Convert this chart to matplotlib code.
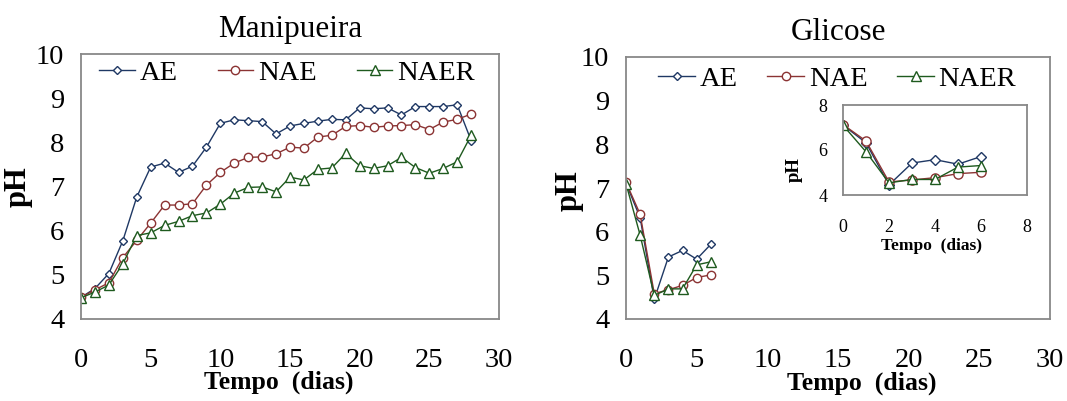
import matplotlib
matplotlib.use("Agg")
import matplotlib.pyplot as plt

plt.rcParams['font.family'] = ['Liberation Serif', 'DejaVu Serif']

# Manipueira, days 0..28
dias_m = list(range(29))
ae_m = [4.49, 4.69, 5.03, 5.77, 6.76, 7.44, 7.53, 7.32, 7.46, 7.89,
        8.43, 8.51, 8.49, 8.47, 8.19, 8.37, 8.43, 8.48, 8.52, 8.51,
        8.78, 8.76, 8.78, 8.62, 8.81, 8.81, 8.81, 8.85, 8.04]
nae_m = [4.49, 4.66, 4.82, 5.39, 5.78, 6.17, 6.58, 6.58, 6.61, 7.03,
         7.32, 7.53, 7.66, 7.67, 7.74, 7.89, 7.87, 8.12, 8.16, 8.36,
         8.38, 8.34, 8.37, 8.38, 8.40, 8.29, 8.46, 8.52, 8.64]
naer_m = [4.48, 4.61, 4.77, 5.25, 5.89, 5.95, 6.12, 6.21, 6.34, 6.40,
          6.60, 6.85, 6.98, 6.99, 6.88, 7.21, 7.15, 7.39, 7.42, 7.75,
          7.47, 7.41, 7.47, 7.66, 7.43, 7.30, 7.41, 7.56, 8.16]

# Glicose, days 0..6
dias_g = list(range(7))
ae_g = [7.11, 6.32, 4.45, 5.42, 5.57, 5.37, 5.71]
nae_g = [7.13, 6.40, 4.58, 4.67, 4.77, 4.95, 5.01]
naer_g = [7.10, 5.92, 4.54, 4.69, 4.69, 5.24, 5.31]

labels = ['AE', 'NAE', 'NAER']
colors = ['#1f3864', '#8b3333', '#1e5a1e']
markers = ['D', 'o', '^']
msizes = [4.5, 6, 6.5]

gray = '#888888'
fs = 20.5

fig = plt.figure(figsize=(10.67, 4.01), dpi=100)
W, H = 1067, 401


def box(x0, y0, x1, y1):
    return [x0 / W, 1 - y1 / H, (x1 - x0) / W, (y1 - y0) / H]


def draw_series(ax, x, ys, ms_scale=1.0):
    for y, lab, c, m, s in zip(ys, labels, colors, markers, msizes):
        ax.plot(x, y, color=c, marker=m, markersize=s * ms_scale,
                markerfacecolor='white', markeredgecolor=c,
                markeredgewidth=1.0, linewidth=1.0, label=lab)


def style(ax, size, xpad, ypad):
    for sp in ax.spines.values():
        sp.set_color(gray)
        sp.set_linewidth(1.3)
    ax.tick_params(axis='both', length=0, labelsize=size)
    ax.tick_params(axis='x', pad=xpad)
    ax.tick_params(axis='y', pad=ypad)


# left panel
ax1 = fig.add_axes(box(81, 54, 499, 319))
draw_series(ax1, dias_m, [ae_m, nae_m, naer_m])
ax1.set_xlim(0, 30)
ax1.set_ylim(4, 10)
ax1.set_xticks(range(0, 31, 5))
ax1.set_yticks(range(4, 11))
style(ax1, fs, 21, 12)
ax1.set_title('Manipueira', fontsize=22.5, pad=12)
ax1.set_xlabel('Tempo  (dias)', fontsize=18.5, fontweight='bold')
ax1.xaxis.set_label_coords(0.474, -0.24)
ax1.xaxis.label.set_va('center')
ax1.set_ylabel('pH', fontsize=22, fontweight='bold')
ax1.yaxis.set_label_coords(-0.115, 0.5)
ax1.legend(loc='center', bbox_to_anchor=(0.493, 0.929), ncol=3,
           frameon=False, fontsize=fs, handlelength=1.25, handletextpad=0.18,
           columnspacing=1.4, borderpad=0, borderaxespad=0)

# right panel
ax2 = fig.add_axes(box(626, 57, 1050, 319))
draw_series(ax2, dias_g, [ae_g, nae_g, naer_g])
ax2.set_xlim(0, 30)
ax2.set_ylim(4, 10)
ax2.set_xticks(range(0, 31, 5))
ax2.set_yticks(range(4, 11))
style(ax2, fs, 21, 12)
ax2.set_title('Glicose', fontsize=22.5, pad=12)
ax2.set_xlabel('Tempo  (dias)', fontsize=18.5, fontweight='bold')
ax2.xaxis.set_label_coords(0.555, -0.245)
ax2.xaxis.label.set_va('center')
ax2.set_ylabel('pH', fontsize=22, fontweight='bold')
ax2.yaxis.set_label_coords(-0.101, 0.49)
ax2.legend(loc='center', bbox_to_anchor=(0.498, 0.917), ncol=3,
           frameon=False, fontsize=fs, handlelength=1.3, handletextpad=0.15,
           columnspacing=1.05, borderpad=0, borderaxespad=0)

# inset
ax3 = fig.add_axes(box(843, 105, 1027, 195))
draw_series(ax3, dias_g, [ae_g, nae_g, naer_g], ms_scale=1.1)
ax3.set_xlim(0, 8)
ax3.set_ylim(4, 8)
ax3.set_xticks(range(0, 9, 2))
ax3.set_yticks([4, 6, 8])
style(ax3, 13, 17, 11)
ax3.set_xlabel('Tempo  (dias)', fontsize=12.5, fontweight='bold')
ax3.xaxis.set_label_coords(0.48, -0.567)
ax3.xaxis.label.set_va('center')
ax3.set_ylabel('pH', fontsize=13.5, fontweight='bold')
ax3.yaxis.set_label_coords(-0.22, 0.28)

fig.savefig('out.png', dpi=100)
